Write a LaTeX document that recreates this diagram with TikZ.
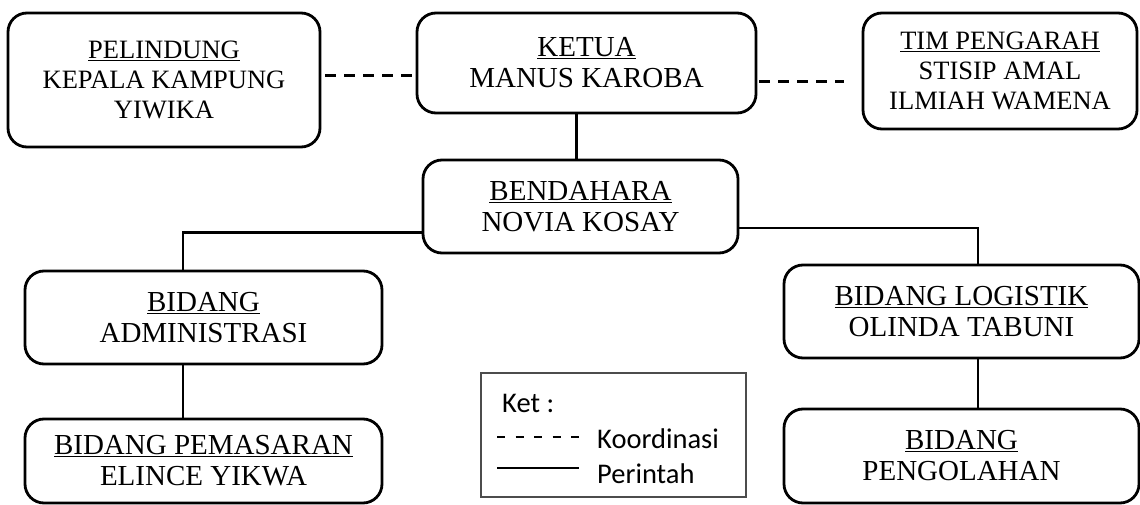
\documentclass[tikz,border=0pt]{standalone}
\usepackage{fontspec}
\setmainfont{Liberation Serif}
\newfontfamily\calibri{Carlito}
\begin{document}
\begin{tikzpicture}[x=1pt,y=-1pt,
  orgbox/.style={draw, line width=2.8pt, rounded corners=19pt, align=center, inner sep=0pt},
  bigtext/.style={font=\fontsize{29}{31}\selectfont},
  smalltext/.style={font=\fontsize{26.5}{30}\selectfont},
  conn/.style={line width=2.8pt},
  coord/.style={line width=3pt, dash pattern=on 10.5pt off 8.5pt},
  legtext/.style={font=\calibri\fontsize{28.5}{30}\selectfont, anchor=base west, inner sep=0pt}]
\useasboundingbox (0,0) rectangle (1140,505);
% boxes
\node[orgbox, smalltext, minimum width=312pt, minimum height=134pt] (pel) at (164,80)
  {\underline{PELINDUNG}\\KEPALA KAMPUNG\\YIWIKA};
\node[orgbox, bigtext, minimum width=339pt, minimum height=100pt] (ketua) at (586.5,63)
  {\underline{KETUA}\\MANUS KAROBA};
\node[orgbox, smalltext, minimum width=274pt, minimum height=116pt] (tim) at (1000,71)
  {\underline{TIM PENGARAH}\\STISIP AMAL\\ILMIAH WAMENA};
\node[orgbox, bigtext, minimum width=315pt, minimum height=93pt] (bend) at (580.5,206.5)
  {\underline{BENDAHARA}\\NOVIA KOSAY};
\node[orgbox, bigtext, minimum width=357pt, minimum height=93pt] (adm) at (203.5,317.5)
  {\underline{BIDANG}\\ADMINISTRASI};
\node[orgbox, bigtext, minimum width=357pt, minimum height=84pt] (pem) at (203.5,461)
  {\underline{BIDANG PEMASARAN}\\ELINCE YIKWA};
\node[orgbox, bigtext, minimum width=355pt, minimum height=93pt] (log) at (961.5,311.5)
  {\underline{BIDANG LOGISTIK}\\OLINDA TABUNI};
\node[orgbox, bigtext, minimum width=355pt, minimum height=94pt] (peng) at (961.5,456)
  {\underline{BIDANG}\\PENGOLAHAN};
% connectors
\draw[coord, shorten <=4pt, shorten >=3.5pt] ([yshift=4pt]pel.east) -- ([yshift=4pt]pel.east -| ketua.west);
\draw[coord, shorten <=2pt, shorten >=18pt] ([yshift=-19pt]ketua.east) -- ([yshift=-19pt]ketua.east -| tim.west);
\draw[conn] ([xshift=-10pt]ketua.south) -- ([xshift=-10pt]ketua.south |- bend.north);
\draw[conn] ([yshift=-26pt]bend.west) -| ([xshift=-20.5pt]adm.north);
\draw[conn] ([yshift=-21.5pt]bend.east) -| ([xshift=16.5pt]log.north);
\draw[conn] ([xshift=-20.5pt]adm.south) -- ([xshift=-20.5pt]pem.north);
\draw[conn] ([xshift=16.5pt]log.south) -- ([xshift=16.5pt]peng.north);
% legend
\node[draw=black!70, line width=1.3pt, minimum width=265pt, minimum height=124pt, inner sep=0pt] (leg) at (613.5,435) {};
\node[legtext] (ket) at (502,412) {Ket :};
\coordinate (d1) at (497,437);
\coordinate (d2) at (579,437);
\draw[line width=2pt, dash pattern=on 8pt off 10.5pt] (d1) -- (d2);
\node[legtext] (koor) at (597,448) {Koordinasi};
\coordinate (s1) at (497,468);
\coordinate (s2) at (579,468);
\draw[line width=2.5pt] (s1) -- (s2);
\node[legtext] (per) at (597,483) {Perintah};
\end{tikzpicture}
\end{document}
